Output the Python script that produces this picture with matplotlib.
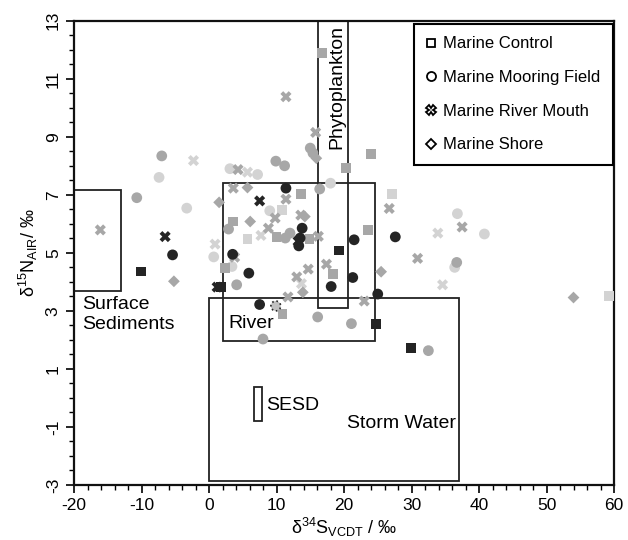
import matplotlib
matplotlib.use("Agg")
import matplotlib.pyplot as plt
from matplotlib.patches import Rectangle
from matplotlib.lines import Line2D
from matplotlib.ticker import MultipleLocator

plt.rcParams['font.family'] = ['Liberation Sans', 'DejaVu Sans']
plt.rcParams['mathtext.default'] = 'regular'
plt.rcParams['axes.unicode_minus'] = False

# ---- data (d34S, d15N) ----
ctrl_mid_x = [16.7, 20.3, 24.0, 13.6, 3.5, 10.0, 14.9, 23.5, 18.4, 2.4, 10.9]
ctrl_mid_y = [11.88, 7.92, 8.4, 7.03, 6.08, 5.56, 5.47, 5.80, 4.27, 4.48, 2.88]
ctrl_light_x = [27.1, 10.8, 5.7, 59.2]
ctrl_light_y = [7.03, 6.48, 5.47, 3.5]
ctrl_dark_x = [19.2, -10.1, 1.8, 24.8, 29.9]
ctrl_dark_y = [5.08, 4.36, 3.82, 2.56, 1.72]

moor_mid_x = [-7.0, -10.7, 9.9, 11.2, 15.0, 15.4, 16.4, 2.9, 12.0, 11.3, 4.1, 16.1, 21.1, 8.0, 36.7, 32.5]
moor_mid_y = [8.34, 6.9, 8.16, 8.0, 8.61, 8.44, 7.2, 5.82, 5.68, 5.51, 3.9, 2.79, 2.56, 2.03, 4.67, 1.63]
moor_light_x = [-7.4, -3.3, 3.1, 7.2, 18.0, 9.0, 0.7, 3.4, 36.8, 40.8, 36.4]
moor_light_y = [7.6, 6.54, 7.9, 7.7, 7.4, 6.45, 4.86, 4.53, 6.35, 5.65, 4.5]
moor_dark_x = [11.4, -5.4, 13.8, 13.5, 13.3, 21.5, 27.6, 21.3, 18.1, 25.0, 5.9, 7.5, 3.5]
moor_dark_y = [7.23, 4.93, 5.85, 5.51, 5.24, 5.45, 5.55, 4.15, 3.84, 3.58, 4.3, 3.22, 4.95]
moor_dashed_x = [9.9]
moor_dashed_y = [3.17]

river_mid_x = [11.4, 15.8, 4.3, 3.6, 11.4, 9.8, 8.8, 13.6, 16.2, 26.7, 30.9, 17.4, 14.7, 13.0, 11.7, 23.0, 37.5, 3.8, -16.1]
river_mid_y = [10.38, 9.15, 7.87, 7.23, 6.85, 6.2, 5.85, 6.3, 5.57, 6.53, 4.81, 4.61, 4.44, 4.17, 3.48, 3.34, 5.89, 4.85, 5.79]
river_light_x = [-2.3, 5.7, 7.7, 0.9, 13.7, 33.9, 34.6]
river_light_y = [8.18, 7.78, 5.6, 5.3, 3.94, 5.68, 3.9]
river_dark_x = [-6.5, 7.5, 1.2, 13.2]
river_dark_y = [5.56, 6.79, 3.82, 5.4]

shore_mid_x = [15.9, 5.7, 1.5, 6.1, 14.2, 25.5, 13.9, -5.2, 54.0]
shore_mid_y = [8.26, 7.25, 6.74, 6.08, 6.25, 4.35, 3.64, 4.02, 3.46]

# source boxes: (name, x0, x1, y0, y1)
box_names = ["Surface Sediments", "River", "Phytoplankton", "Storm Water", "SESD"]
box_x0 = [-20.0, 2.0, 16.1, 0.0, 6.7]
box_x1 = [-13.0, 24.6, 20.6, 37.1, 7.85]
box_y0 = [3.7, 1.97, 3.1, -2.87, -0.78]
box_y1 = [7.15, 7.4, 13.0, 3.43, 0.37]

legend_labels = ["Marine Control", "Marine Mooring Field", "Marine River Mouth", "Marine Shore"]

LIGHT = '#d3d3d3'
MID = '#a7a7a7'
DARK = '#242424'

fig = plt.figure(figsize=(6.28, 5.4), dpi=100)
ax = fig.add_axes([74/628, 1-485/540, 540/628, 464.3/540])
ax.set_xlim(-20, 60)
ax.set_ylim(-3, 13)

# boxes
for x0, x1, y0, y1 in zip(box_x0, box_x1, box_y0, box_y1):
    ax.add_patch(Rectangle((x0, y0), x1 - x0, y1 - y0, fill=False,
                           edgecolor='#222222', linewidth=1.3, zorder=2))

sizes = {'s': 50, 'o': 60, 'X': 64, 'D': 36}

def sc(x, y, m, c, z):
    ax.scatter(x, y, marker=m, s=sizes[m], color=c, edgecolors='none', zorder=z)

for (xs, ys, m) in [(ctrl_light_x, ctrl_light_y, 's'), (moor_light_x, moor_light_y, 'o'),
                    (river_light_x, river_light_y, 'X')]:
    sc(xs, ys, m, LIGHT, 3)
for (xs, ys, m) in [(ctrl_mid_x, ctrl_mid_y, 's'), (moor_mid_x, moor_mid_y, 'o'),
                    (river_mid_x, river_mid_y, 'X'), (shore_mid_x, shore_mid_y, 'D')]:
    sc(xs, ys, m, MID, 4)
for (xs, ys, m) in [(ctrl_dark_x, ctrl_dark_y, 's'), (moor_dark_x, moor_dark_y, 'o'),
                    (river_dark_x, river_dark_y, 'X')]:
    sc(xs, ys, m, DARK, 5)
ax.scatter(moor_dashed_x, moor_dashed_y, marker='o', s=50, facecolor='#c0c0c0',
           edgecolors=DARK, linewidths=1.2, linestyle=':', zorder=5)

# annotations
fs = 14
ax.text(-18.8, 3.5, "Surface\nSediments", fontsize=fs, ha='left', va='top', linespacing=1.2)
ax.text(2.8, 2.42, "River", fontsize=fs, ha='left', va='baseline')
ax.text(18.9, 12.85, "Phytoplankton", fontsize=fs, rotation=90, ha='center', va='top')
ax.text(20.4, -1.03, "Storm Water", fontsize=fs, ha='left', va='baseline')
ax.text(8.4, -0.40, "SESD", fontsize=fs, ha='left', va='baseline')

# axes styling
ax.xaxis.set_major_locator(MultipleLocator(10))
ax.xaxis.set_minor_locator(MultipleLocator(2))
ax.set_yticks(range(-3, 14, 2))
ax.yaxis.set_minor_locator(MultipleLocator(0.5))
ax.tick_params(which='major', length=6, width=1.2, labelsize=12.5, direction='out',
               top=False, right=False)
ax.tick_params(which='minor', length=3.5, width=1.0, direction='out', top=False, right=False)
for lab in ax.get_yticklabels():
    lab.set_rotation(90)
    lab.set_va('center')
for sp in ax.spines.values():
    sp.set_linewidth(1.6)
    sp.set_color('#111111')

ax.set_xlabel(r'$\delta^{34}$S$_{VCDT}$ / ‰', fontsize=13, labelpad=2)
ax.set_ylabel(r'$\delta^{15}$N$_{AIR}$/ ‰', fontsize=13, labelpad=4)

# legend
markers = ['s', 'o', 'X', 'D']
msz = [6, 6.5, 7, 5]
handles = [Line2D([], [], linestyle='none', marker=m, markersize=ms, markerfacecolor='white',
                  markeredgecolor='black', markeredgewidth=1.3) for m, ms in zip(markers, msz)]
leg = ax.legend(handles, legend_labels, loc='upper right', bbox_to_anchor=(0.998, 0.993),
                borderaxespad=0, fontsize=12, frameon=True, fancybox=False,
                edgecolor='black', framealpha=1, handlelength=0.5, handletextpad=0.5,
                labelspacing=1.12, borderpad=0.75)
leg.get_frame().set_linewidth(1.5)
leg.set_zorder(10)

fig.savefig('out.png', dpi=100)
